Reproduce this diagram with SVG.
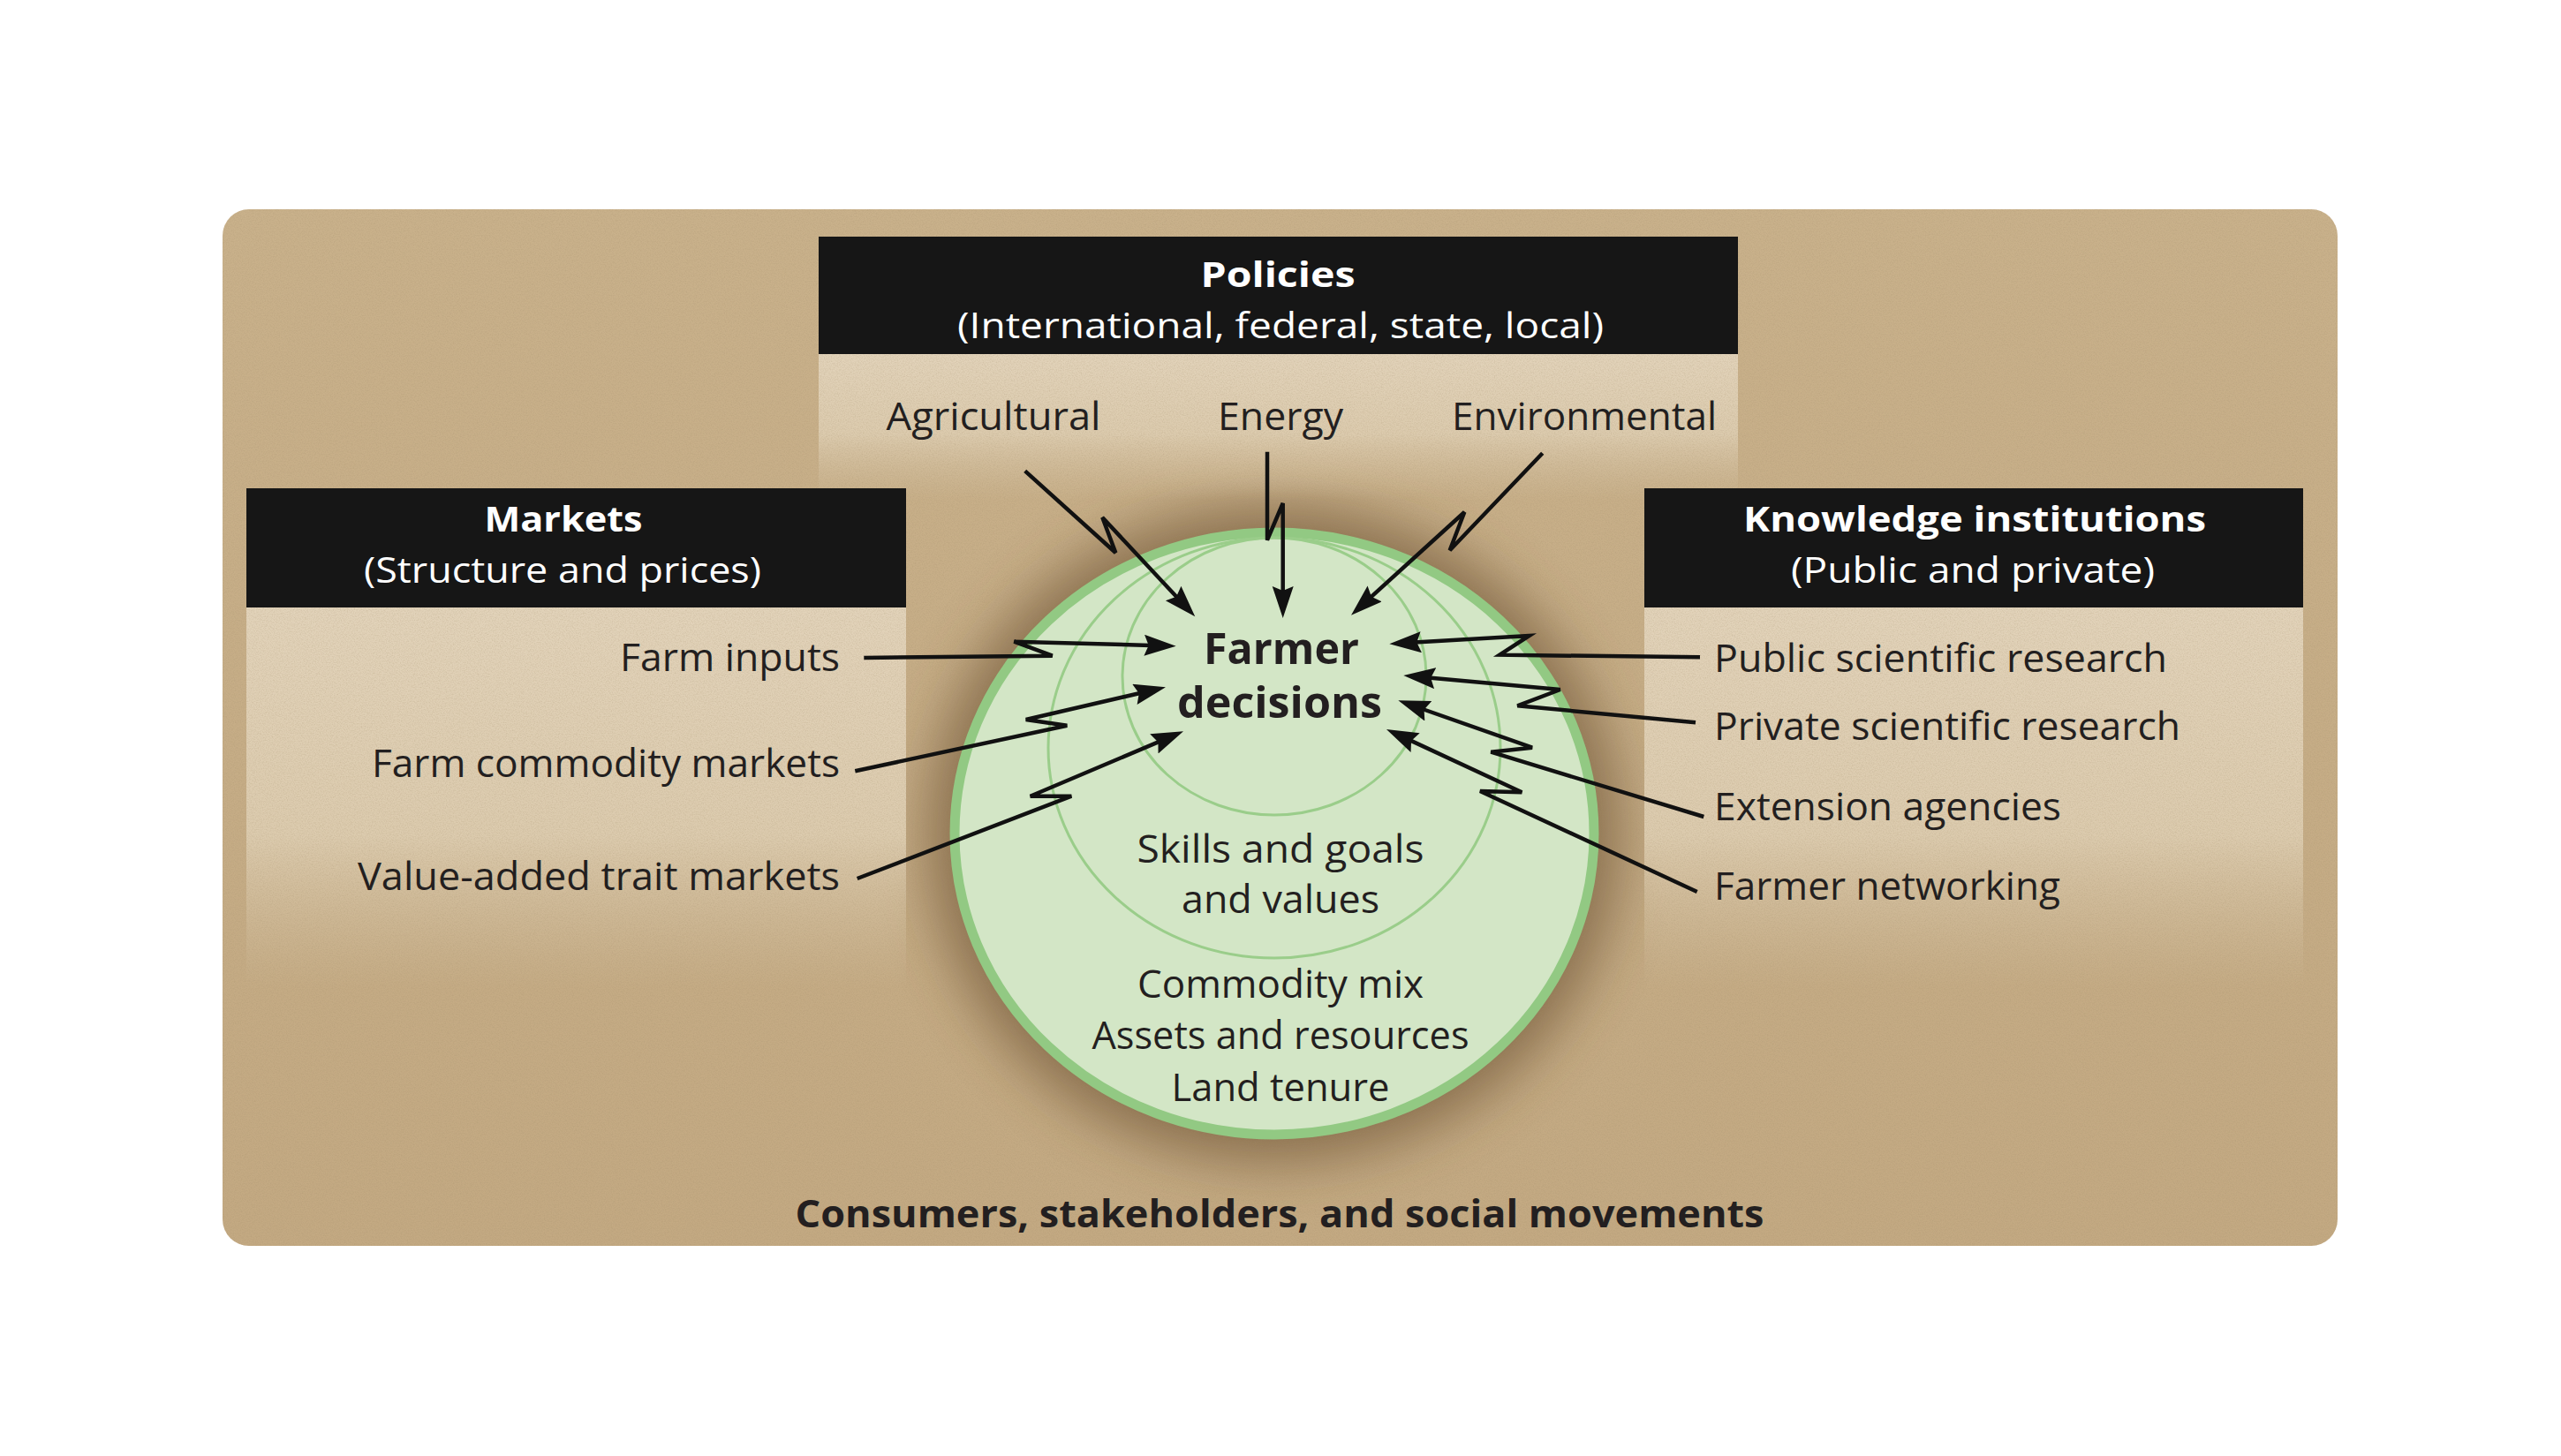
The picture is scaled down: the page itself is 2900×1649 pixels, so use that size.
<svg xmlns="http://www.w3.org/2000/svg" width="2900" height="1649" viewBox="0 0 2900 1649">
<defs>
<style>
.t{font-family:"Open Sans","Noto Sans","Liberation Sans",sans-serif;fill:#231f20;font-size:43px}
.c{text-anchor:middle}
.e{text-anchor:end}
.b{font-weight:700}
.w{fill:#ffffff;font-size:40px}
.hdr{fill:#161616}
.lp{fill:url(#panelG)}
.arr{fill:none;stroke:#111111;stroke-width:4.5;stroke-linejoin:miter;stroke-linecap:butt;marker-end:url(#ah)}
.ring{fill:none;stroke:#9acd8a;stroke-width:3}
</style>
<linearGradient id="bgG" x1="0" y1="0" x2="0" y2="1">
<stop offset="0" stop-color="#c9b18b"/>
<stop offset="1" stop-color="#c3a982"/>
</linearGradient>
<linearGradient id="panelG" x1="0" y1="0" x2="0" y2="1">
<stop offset="0" stop-color="#e2d3ba" stop-opacity="1"/>
<stop offset="0.6" stop-color="#dccbae" stop-opacity="1"/>
<stop offset="1" stop-color="#d2bf9f" stop-opacity="0"/>
</linearGradient>
<linearGradient id="polG" x1="0" y1="0" x2="0" y2="1">
<stop offset="0" stop-color="#e2d3ba" stop-opacity="1"/>
<stop offset="0.55" stop-color="#dccbae" stop-opacity="1"/>
<stop offset="1" stop-color="#d2bf9f" stop-opacity="0"/>
</linearGradient>
<filter id="grain" x="0" y="0" width="1" height="1">
<feTurbulence type="fractalNoise" baseFrequency="0.75" numOctaves="2" seed="7" stitchTiles="stitch" result="n"/>
<feColorMatrix in="n" type="matrix" values="0 0 0 0 0.35  0 0 0 0 0.26  0 0 0 0 0.14  1.4 0 0 0 -0.55" result="c"/>
<feComposite in="c" in2="SourceGraphic" operator="in"/>
</filter>
<filter id="blur" x="-30%" y="-30%" width="160%" height="160%">
<feGaussianBlur stdDeviation="30"/>
</filter>
<marker id="ah" markerUnits="userSpaceOnUse" markerWidth="40" markerHeight="26" refX="16" refY="12" orient="auto">
<path d="M0,0 L36,12 L0,24 L5,12 z" fill="#111111"/>
</marker>
</defs>

<g id="background">
<rect x="252" y="237" width="2395" height="1174" rx="30" fill="url(#bgG)"/>
<ellipse cx="1443" cy="944" rx="392" ry="372" fill="#5c4022" opacity="0.55" filter="url(#blur)"/>
</g>

<g id="panels-light">
<rect class="lp" x="927" y="401" width="1041" height="165" style="fill:url(#polG)"/>
<rect class="lp" x="279" y="688" width="747" height="430"/>
<rect class="lp" x="1862" y="688" width="746" height="430"/>
</g>

<rect x="252" y="237" width="2395" height="1174" rx="30" fill="#000" filter="url(#grain)" opacity="0.35"/>

<g id="node-policies">
<rect class="hdr" x="927" y="268" width="1041" height="133"/>
<text class="t c b w" x="1447" y="325" textLength="175" lengthAdjust="spacingAndGlyphs">Policies</text>
<text class="t c w" x="1450" y="383" textLength="732" lengthAdjust="spacingAndGlyphs">(International, federal, state, local)</text>
<text class="t c" x="1125" y="487" textLength="243" lengthAdjust="spacingAndGlyphs">Agricultural</text>
<text class="t c" x="1450" y="487" textLength="142" lengthAdjust="spacingAndGlyphs">Energy</text>
<text class="t c" x="1794" y="487" textLength="300" lengthAdjust="spacingAndGlyphs">Environmental</text>
</g>

<g id="node-markets">
<rect class="hdr" x="279" y="553" width="747" height="135"/>
<text class="t c b w" x="638" y="602" textLength="179" lengthAdjust="spacingAndGlyphs">Markets</text>
<text class="t c w" x="637" y="660" textLength="450" lengthAdjust="spacingAndGlyphs">(Structure and prices)</text>
<text class="t e" x="951" y="760" textLength="249" lengthAdjust="spacingAndGlyphs">Farm inputs</text>
<text class="t e" x="951" y="880" textLength="530" lengthAdjust="spacingAndGlyphs">Farm commodity markets</text>
<text class="t e" x="951" y="1008" textLength="546" lengthAdjust="spacingAndGlyphs">Value-added trait markets</text>
</g>

<g id="node-knowledge">
<rect class="hdr" x="1862" y="553" width="746" height="135"/>
<text class="t c b w" x="2236" y="602" textLength="524" lengthAdjust="spacingAndGlyphs">Knowledge institutions</text>
<text class="t c w" x="2234" y="660" textLength="412" lengthAdjust="spacingAndGlyphs">(Public and private)</text>
<text class="t" x="1941" y="761" textLength="513" lengthAdjust="spacingAndGlyphs">Public scientific research</text>
<text class="t" x="1941" y="838" textLength="528" lengthAdjust="spacingAndGlyphs">Private scientific research</text>
<text class="t" x="1941" y="929" textLength="393" lengthAdjust="spacingAndGlyphs">Extension agencies</text>
<text class="t" x="1941" y="1019" textLength="392" lengthAdjust="spacingAndGlyphs">Farmer networking</text>
</g>

<g id="node-farmer">
<ellipse cx="1443" cy="944" rx="362" ry="341" fill="#d3e6c6" stroke="#92c983" stroke-width="11"/>
<ellipse class="ring" cx="1443" cy="847" rx="256" ry="238"/>
<ellipse class="ring" cx="1443" cy="766" rx="172" ry="157"/>
<text class="t c b" x="1451" y="752" style="font-size:48px" textLength="176" lengthAdjust="spacingAndGlyphs">Farmer</text>
<text class="t c b" x="1449" y="813" style="font-size:48px" textLength="232" lengthAdjust="spacingAndGlyphs">decisions</text>
<text class="t c" x="1450" y="977" textLength="325" lengthAdjust="spacingAndGlyphs">Skills and goals</text>
<text class="t c" x="1450" y="1034" textLength="224" lengthAdjust="spacingAndGlyphs">and values</text>
<text class="t c" x="1450" y="1130" textLength="324" lengthAdjust="spacingAndGlyphs">Commodity mix</text>
<text class="t c" x="1450" y="1188" textLength="427" lengthAdjust="spacingAndGlyphs">Assets and resources</text>
<text class="t c" x="1450" y="1247" textLength="247" lengthAdjust="spacingAndGlyphs">Land tenure</text>
</g>

<g id="node-consumers">
<text class="t c b" x="1449" y="1390" textLength="1097" lengthAdjust="spacingAndGlyphs">Consumers, stakeholders, and social movements</text>
</g>

<g id="connectors">
<path class="arr" d="M1160.7,533.3 L1263.3,626 L1248.3,586 L1339.6,683.7"/>
<path class="arr" d="M1435,511.7 L1435,611.7 L1452.7,570 L1452.7,680"/>
<path class="arr" d="M1746.7,513.3 L1641.7,623.3 L1658.3,580 L1544.8,683.2"/>
<path class="arr" d="M978.3,745 L1191.7,742.7 L1148.3,726.7 L1311.7,731.2"/>
<path class="arr" d="M968.3,873.3 L1208.3,821.7 L1161.7,815 L1300.5,782.8"/>
<path class="arr" d="M970.7,995 L1213.3,901.7 L1166.7,901.7 L1321.6,836.1"/>
<path class="arr" d="M1925,744.3 L1698.3,741.7 L1731.7,720 L1593.3,728.1"/>
<path class="arr" d="M1920,818.3 L1718.3,799.3 L1766.7,781 L1609.2,766.8"/>
<path class="arr" d="M1929.3,925 L1688.3,851.7 L1735,846.7 L1602.2,800"/>
<path class="arr" d="M1921.7,1010 L1676,896 L1723.3,897.3 L1588.1,834.4"/>
</g>
</svg>
